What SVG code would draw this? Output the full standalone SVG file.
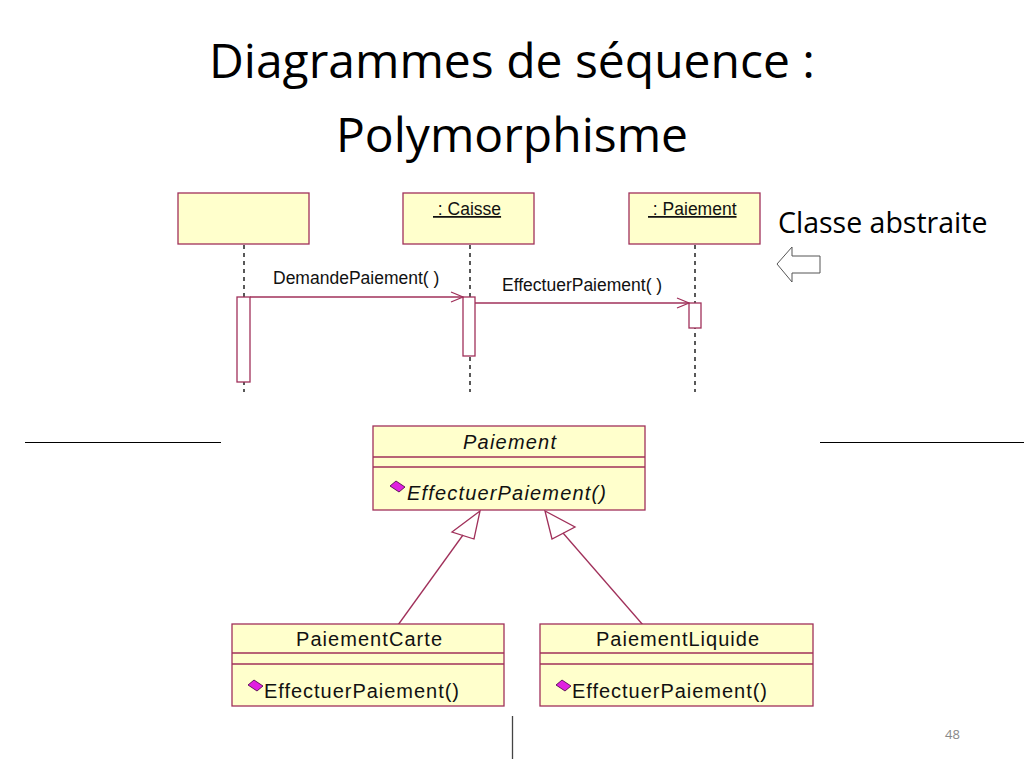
<svg xmlns="http://www.w3.org/2000/svg" width="1024" height="768" viewBox="0 0 1024 768">
<defs>
<style>
.box{fill:#FFFFCC;stroke:#A0305A;stroke-width:1.3}
.act{fill:#FFFFFF;stroke:#A0305A;stroke-width:1.3}
.ln{fill:none;stroke:#A0305A;stroke-width:1.3}
.life{stroke:#000;stroke-width:1.3;stroke-dasharray:4,4}
.uml{font-family:"Liberation Sans",Arial,sans-serif;font-size:20px;fill:#111}
.small{font-family:"Liberation Sans",Arial,sans-serif;font-size:17.5px;fill:#111}
.title{font-family:"Open Sans","Noto Sans",sans-serif;font-size:48px;fill:#000}
.dia{fill:#E020E0;stroke:#400040;stroke-width:0.8}
</style>
<marker id="open" markerWidth="14" markerHeight="12" refX="13" refY="6" orient="auto" markerUnits="userSpaceOnUse">
<path d="M1,1 L13,6 L1,11" fill="none" stroke="#A0305A" stroke-width="1.3"/>
</marker>
</defs>
<rect width="1024" height="768" fill="#fff"/>
<text class="title" x="512" y="78" text-anchor="middle">Diagrammes de séquence :</text>
<text class="title" x="512" y="152" text-anchor="middle">Polymorphisme</text>

<g id="obj1"><rect class="box" x="178" y="193" width="131" height="51"/></g>
<g id="caisse"><rect class="box" x="403" y="193" width="131" height="51"/>
<text class="small" x="433" y="215" text-decoration="underline">&#160;: Caisse</text></g>
<g id="paiementObj"><rect class="box" x="629" y="193" width="131" height="51"/>
<text class="small" x="648" y="215" text-decoration="underline">&#160;: Paiement</text></g>

<g id="lifelines">
<line class="life" x1="244" y1="245" x2="244" y2="392"/>
<line class="life" x1="470" y1="245" x2="470" y2="392"/>
<line class="life" x1="695" y1="245" x2="695" y2="392"/>
</g>
<g id="activations">
<rect class="act" x="237" y="297" width="13" height="85"/>
<rect class="act" x="463" y="297" width="12" height="59"/>
<rect class="act" x="689" y="303" width="12" height="25"/>
</g>

<g id="connectors">
<line class="ln" x1="250" y1="297" x2="463" y2="297" marker-end="url(#open)"/>
<line class="ln" x1="475" y1="303" x2="689" y2="303" marker-end="url(#open)"/>
<line class="ln" x1="463" y1="535" x2="398" y2="625"/>
<polygon class="ln" points="480,511 452,532 474,539"/>
<line class="ln" x1="563" y1="533" x2="643" y2="625"/>
<polygon class="ln" points="545,511 552,539 575,527"/>
</g>
<text class="small" x="273" y="284">DemandePaiement( )</text>
<text class="small" x="502" y="291">EffectuerPaiement( )</text>

<g id="note">
<text x="778" y="233" font-family="Open Sans,Noto Sans,sans-serif" font-size="28.5" fill="#000">Classe abstraite</text>
<polygon points="777,264 792,247 792,256 820,256 820,273 792,273 792,282" fill="#fff" stroke="#555" stroke-width="1"/>
</g>

<line x1="25" y1="442.5" x2="221" y2="442.5" stroke="#000" stroke-width="1"/>
<line x1="820" y1="442.5" x2="1024" y2="442.5" stroke="#000" stroke-width="1"/>

<g id="Paiement">
<rect class="box" x="373" y="426" width="272" height="84"/>
<line class="ln" x1="373" y1="457" x2="645" y2="457"/>
<line class="ln" x1="373" y1="467" x2="645" y2="467"/>
<text class="uml" x="463" y="449" font-style="italic" textLength="93">Paiement</text>
<polygon class="dia" points="390,486 396,481 405,487 399,492"/>
<text class="uml" x="407" y="500" font-style="italic" font-size="21" textLength="199">EffectuerPaiement()</text>
</g>

<g id="PaiementCarte">
<rect class="box" x="232" y="624" width="272" height="82"/>
<line class="ln" x1="232" y1="653" x2="504" y2="653"/>
<line class="ln" x1="232" y1="664" x2="504" y2="664"/>
<text class="uml" x="296" y="646" textLength="146">PaiementCarte</text>
<polygon class="dia" points="248,685 254,680 263,686 257,691"/>
<text class="uml" x="264" y="698" font-size="21" textLength="195">EffectuerPaiement()</text>
</g>

<g id="PaiementLiquide">
<rect class="box" x="540" y="624" width="273" height="82"/>
<line class="ln" x1="540" y1="653" x2="813" y2="653"/>
<line class="ln" x1="540" y1="664" x2="813" y2="664"/>
<text class="uml" x="596" y="646" textLength="163">PaiementLiquide</text>
<polygon class="dia" points="556,685 562,680 571,686 565,691"/>
<text class="uml" x="572" y="698" font-size="21" textLength="195">EffectuerPaiement()</text>
</g>

<line x1="512.5" y1="716" x2="512.5" y2="759" stroke="#444" stroke-width="1.3"/>
<text x="945" y="739" font-family="Open Sans,Noto Sans,sans-serif" font-size="13" fill="#888">48</text>
</svg>
